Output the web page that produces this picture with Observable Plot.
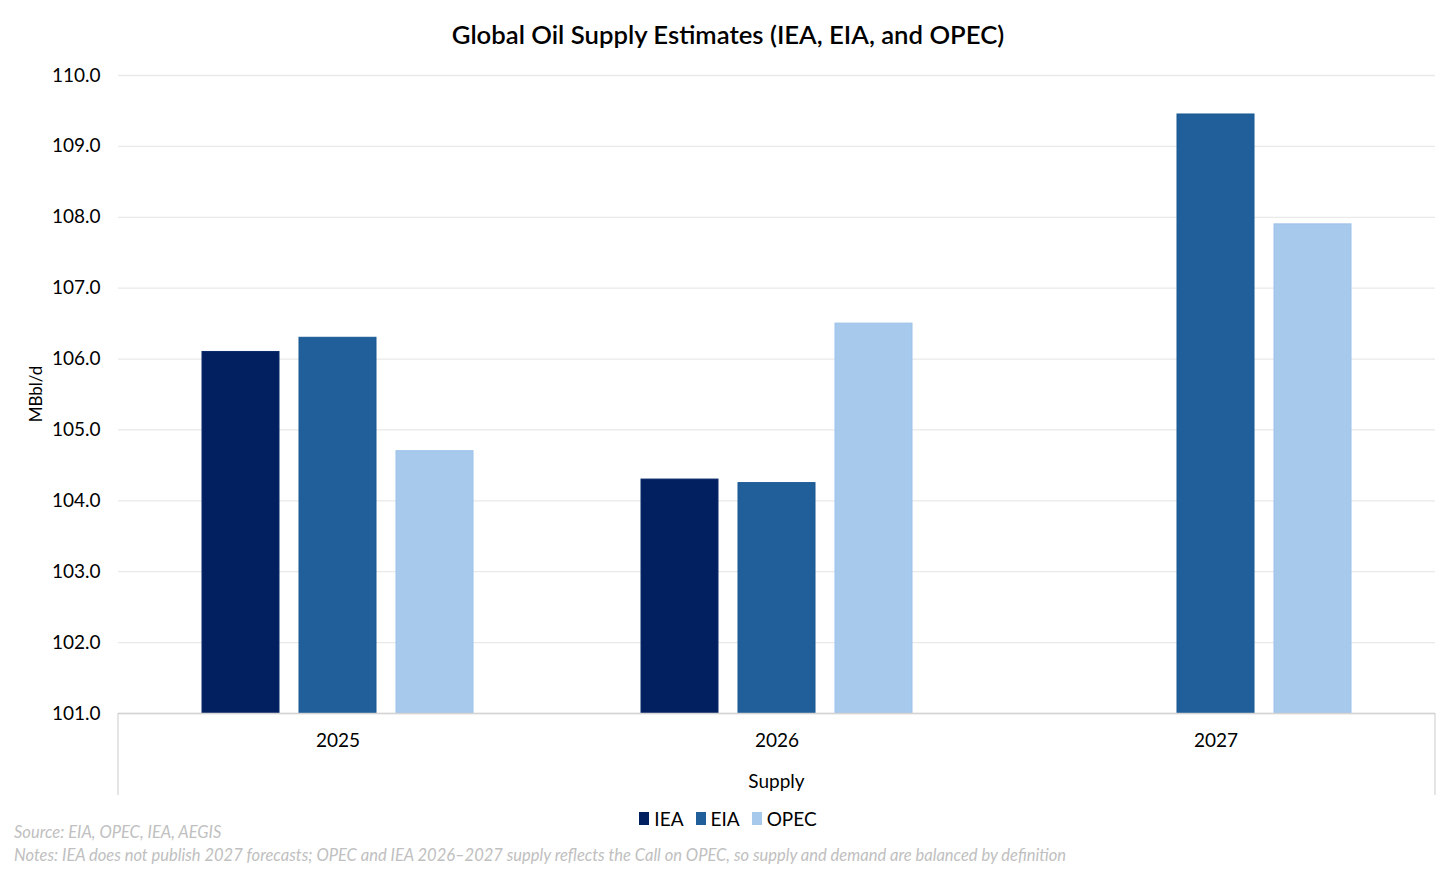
<!DOCTYPE html>
<html>
<head>
<meta charset="utf-8">
<script src="https://cdn.jsdelivr.net/npm/d3@7"></script>
<script src="https://cdn.jsdelivr.net/npm/@observablehq/plot@0.6"></script>
<style>
  html, body { margin: 0; padding: 0; background: #fff; font-family: Lato, "Noto Sans", sans-serif; }
  #wrap { position: relative; width: 1456px; height: 874px; overflow: hidden; }
  #title { position: absolute; left: 0; top: 0; width: 1456px; height: 60px; line-height: 68px; text-align: center; font-size: 25.7px; font-weight: 600; color: #000; }
  #chart { position: absolute; left: 0; top: 60px; }
  #legend { position: absolute; left: 0; top: 806px; width: 1456px; text-align: center; font-size: 19px; color: #000; }
  #legend span.item { display: inline-flex; align-items: center; margin: 0 6px; }
  #legend span.sw { display: inline-block; width: 10px; height: 13px; margin-right: 5px; }
  .note { position: absolute; left: 14px; font-size: 16.5px; font-style: italic; color: #c0c0c0; white-space: nowrap; }
</style>
</head>
<body>
<div id="wrap">
  <div id="title">Global Oil Supply Estimates (IEA, EIA, and OPEC)</div>
  <div id="chart"></div>
  <div id="legend"></div>
  <div class="note" style="top:822px">Source: EIA, OPEC, IEA, AEGIS</div>
  <div class="note" style="top:845px">Notes: IEA does not publish 2027 forecasts; OPEC and IEA 2026–2027 supply reflects the Call on OPEC, so supply and demand are balanced by definition</div>
</div>
<script>
const years = ["2025", "2026", "2027"];
const sources = ["IEA", "EIA", "OPEC"];
const ieaValues = [106.1, 104.3, null];
const eiaValues = [106.3, 104.25, 109.45];
const opecValues = [104.7, 106.5, 107.9];
const yTicks = [101, 102, 103, 104, 105, 106, 107, 108, 109, 110];
const colors = ["#02205F", "#215F9A", "#A6C9EC"];
const strokes = ["#0A2A6A", "#1A5894", "#9DC3EA"];

const seriesValues = [ieaValues, eiaValues, opecValues];
const data = [];
years.forEach((yr, i) => {
  sources.forEach((s, j) => {
    const v = seriesValues[j][i];
    if (v != null) data.push({ year: yr, source: s, value: v });
  });
});

const W = 1456, H = 736, mL = 118, mR = 21, mT = 15, mB = 83;

const plot = Plot.plot({
  width: W,
  height: H,
  marginLeft: mL,
  marginRight: mR,
  marginTop: mT,
  marginBottom: mB,
  style: { fontFamily: "Lato, 'Noto Sans', sans-serif", fontSize: "19px", color: "#000", background: "#fff" },
  fx: { domain: years, paddingInner: 0, paddingOuter: 0, label: null },
  x: { domain: sources, paddingInner: 0.21, paddingOuter: 0.86, axis: null },
  y: { domain: [101, 110], label: null },
  color: { domain: sources, range: colors },
  marks: [
    Plot.gridY(yTicks, { stroke: "#e9e9e9", strokeOpacity: 1, strokeWidth: 1.3 }),
    Plot.axisY(yTicks, { tickSize: 0, tickPadding: 18, tickFormat: d3.format(".1f"), fontSize: 19, label: null }),
    Plot.barY(data, {
      fx: "year", x: "source", y1: () => 101, y2: "value",
      fill: "source",
      stroke: d => strokes[sources.indexOf(d.source)],
      strokeWidth: 1
    }),
    Plot.axisFx({ anchor: "bottom", tickSize: 0, tickPadding: 20, fontSize: 19, label: null }),
    Plot.ruleY([101], { stroke: "#d4d4d4", strokeWidth: 1.5 })
  ]
});

document.getElementById("chart").appendChild(plot);

// Excel-style category box below the plot (sides), computed from layout
const svg = d3.select(plot);
svg.append("line")
  .attr("x1", mL).attr("x2", mL)
  .attr("y1", H - mB).attr("y2", H - 1)
  .attr("stroke", "#d4d4d4").attr("stroke-width", 1.2);
svg.append("line")
  .attr("x1", W - mR).attr("x2", W - mR)
  .attr("y1", H - mB).attr("y2", H - 1)
  .attr("stroke", "#d4d4d4").attr("stroke-width", 1.2);
svg.append("text")
  .attr("x", mL + (W - mL - mR) / 2).attr("y", H - 8)
  .attr("text-anchor", "middle")
  .attr("font-size", 19).attr("fill", "#000")
  .attr("font-family", "Lato, 'Noto Sans', sans-serif")
  .text("Supply");
// Y axis title, centred on the plot frame
svg.append("text")
  .attr("transform", `translate(${42},${mT + (H - mT - mB) / 2}) rotate(-90)`)
  .attr("text-anchor", "middle")
  .attr("font-size", 17).attr("fill", "#000")
  .attr("font-family", "Lato, 'Noto Sans', sans-serif")
  .text("MBbl/d");

// Legend
const legend = d3.select("#legend");
sources.forEach((s, j) => {
  const it = legend.append("span").attr("class", "item");
  it.append("span").attr("class", "sw").style("background", colors[j]);
  it.append("span").text(s);
});
</script>
</body>
</html>
